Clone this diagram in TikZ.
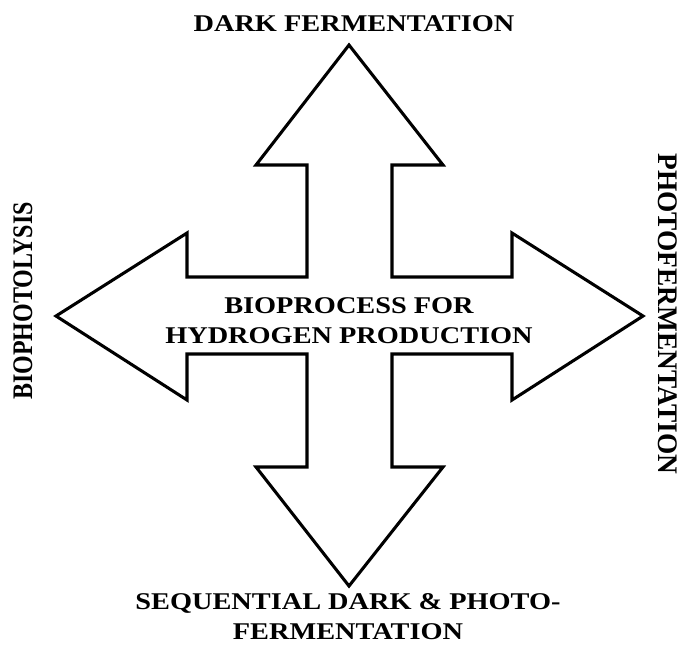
\documentclass[tikz,border=0pt]{standalone}
\usepackage{fontspec}
\setmainfont{Liberation Serif}
\begin{document}
\begin{tikzpicture}[x=0.75pt,y=0.75pt,yscale=-1,xscale=1]
\useasboundingbox (0,0) rectangle (680,651);
\tikzset{lbl/.style={inner sep=0pt,font=\fontsize{18}{22}\selectfont\bfseries}}

%Shape: Quad Arrow [id:crossarrow]
\draw  [line width=2.3pt,line join=miter] (349,45) -- (443,165) -- (392,165) -- (392,277) -- (512,277) -- (512,233) -- (643,316) -- (512,400) -- (512,354) -- (392,354) -- (392,467) -- (443,467) -- (349,586) -- (256,467) -- (307,467) -- (307,354) -- (187,354) -- (187,400) -- (56,316) -- (187,233) -- (187,277) -- (307,277) -- (307,165) -- (256,165) -- cycle ;

% Text Node
\draw (354,23.3) node (dark) [lbl,xscale=1.18] {DARK FERMENTATION};
% Text Node
\draw (349,320.5) node (bio) [lbl,xscale=1.18,align=center] {BIOPROCESS FOR\\HYDROGEN PRODUCTION};
% Text Node
\draw (348,616.5) node (seq) [lbl,xscale=1.18,align=center] {SEQUENTIAL DARK \& PHOTO-\\FERMENTATION};
% Text Node
\draw (23,301) node (lysis) [lbl,rotate=90,yscale=1.18] {BIOPHOTOLYSIS};
% Text Node
\draw (668,314) node (photo) [lbl,rotate=-90,yscale=1.18,xscale=1.14] {PHOTOFERMENTATION};

\end{tikzpicture}
\end{document}
